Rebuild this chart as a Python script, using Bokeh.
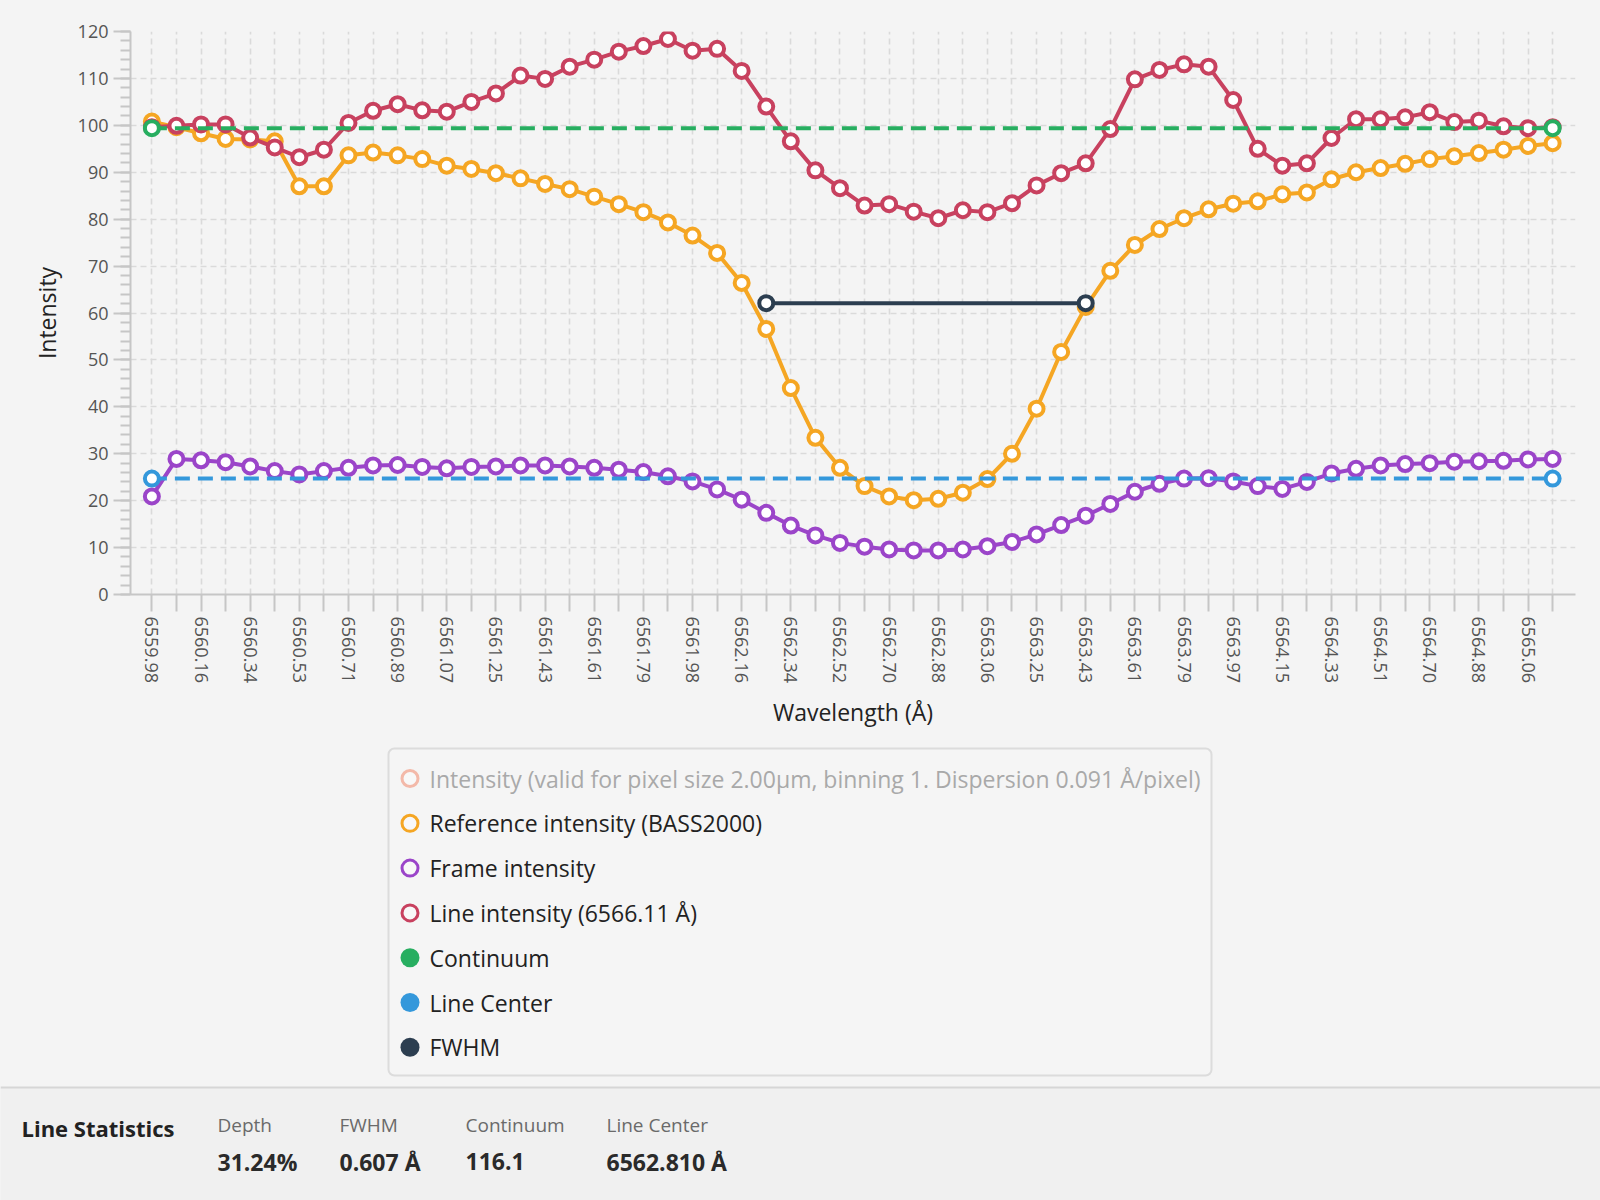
import math

from bokeh.core.properties import value
from bokeh.embed import file_html
from bokeh.layouts import column
from bokeh.models import FixedTicker, Range1d, SingleIntervalTicker
from bokeh.plotting import figure
from bokeh.resources import INLINE

# ---------------------------------------------------------------------------
# Spectrum data (one value per detector pixel along the dispersion axis)
# ---------------------------------------------------------------------------
wavelength_labels = [
    "6559.98", "6560.16", "6560.34", "6560.53", "6560.71", "6560.89",
    "6561.07", "6561.25", "6561.43", "6561.61", "6561.79", "6561.98",
    "6562.16", "6562.34", "6562.52", "6562.70", "6562.88", "6563.06",
    "6563.25", "6563.43", "6563.61", "6563.79", "6563.97", "6564.15",
    "6564.33", "6564.51", "6564.70", "6564.88", "6565.06",
]

reference_intensity = [
    100.8, 99.6, 98.3, 97.1, 97.0, 96.6, 87.0, 87.0, 93.6, 94.2,
    93.6, 92.8, 91.4, 90.7, 89.8, 88.7, 87.5, 86.4, 84.8, 83.2,
    81.5, 79.3, 76.5, 72.8, 66.4, 56.6, 44.0, 33.4, 27.0, 23.1,
    20.9, 20.1, 20.4, 21.7, 24.6, 30.0, 39.6, 51.7, 61.3, 69.0,
    74.5, 77.9, 80.2, 82.1, 83.3, 83.8, 85.3, 85.7, 88.5, 90.0,
    90.9, 91.8, 92.8, 93.4, 94.1, 94.8, 95.6, 96.2,
]

frame_intensity = [
    20.9, 28.9, 28.6, 28.2, 27.3, 26.3, 25.6, 26.3, 27.0, 27.5,
    27.6, 27.2, 26.9, 27.2, 27.3, 27.5, 27.5, 27.3, 27.0, 26.6,
    26.1, 25.2, 24.1, 22.4, 20.2, 17.4, 14.7, 12.6, 11.0, 10.2,
    9.6, 9.4, 9.4, 9.6, 10.3, 11.2, 12.8, 14.8, 16.8, 19.3,
    21.9, 23.6, 24.7, 24.8, 24.1, 23.1, 22.5, 24.0, 25.8, 26.8,
    27.5, 27.8, 28.0, 28.3, 28.4, 28.5, 28.8, 28.9,
]

line_intensity = [
    99.6, 99.9, 100.2, 100.2, 97.4, 95.3, 93.2, 94.8, 100.5, 103.1,
    104.5, 103.2, 102.9, 105.0, 106.8, 110.6, 109.9, 112.5, 114.0, 115.7,
    116.9, 118.4, 115.9, 116.3, 111.6, 104.0, 96.6, 90.4, 86.6, 82.9,
    83.2, 81.6, 80.2, 81.9, 81.5, 83.4, 87.2, 89.8, 91.9, 99.2,
    109.8, 111.8, 113.0, 112.5, 105.4, 95.0, 91.4, 91.9, 97.3, 101.3,
    101.3, 101.7, 102.8, 100.7, 101.0, 99.8, 99.4, 99.6,
]

continuum_level = 99.4
line_center_level = 24.7
fwhm_level = 62.1
fwhm_pixels = [25, 38]

legend_labels = [
    "Intensity (valid for pixel size 2.00μm, binning 1. Dispersion 0.091  Å/pixel)",
    "Reference intensity (BASS2000)",
    "Frame intensity",
    "Line intensity (6566.11 Å)",
    "Continuum",
    "Line Center",
    "FWHM",
]

stats_names = ["Depth", "FWHM", "Continuum", "Line Center"]
stats_values = ["31.24%", "0.607 Å", "116.1", "6562.810 Å"]

# ---------------------------------------------------------------------------
# Styling
# ---------------------------------------------------------------------------
FONT = "Open Sans"
BG = "#f4f4f4"
C_INTENSITY = "#f3b9a9"
C_REF = "#f5a623"
C_FRAME = "#9b45c9"
C_LINE = "#c8415f"
C_CONT = "#27ae60"
C_CENTER = "#3498db"
C_FWHM = "#2c3e50"
AXIS_GREY = "#c6c6c6"
GRID_GREY = "#dadada"

n = len(line_intensity)
pixels = list(range(n))

# ---------------------------------------------------------------------------
# Spectrum chart
# ---------------------------------------------------------------------------
p = figure(
    width=1600, height=730,
    x_range=Range1d(-0.87, n - 1 + 0.93), y_range=Range1d(0, 120),
    min_border_left=130, min_border_right=25,
    min_border_top=31, min_border_bottom=135,
    background_fill_color=BG, border_fill_color=BG,
    outline_line_color=None,
    output_backend="svg", toolbar_location=None,
)
p.frame_align = False

# x axis: one tick per pixel, wavelength labels on every second one
overrides = {}
for i in pixels:
    overrides[i] = wavelength_labels[i // 2] if i % 2 == 0 else ""
xa = p.xaxis[0]
xa.ticker = FixedTicker(ticks=pixels)
xa.major_label_overrides = overrides
xa.major_label_orientation = -math.pi / 2
xa.axis_label = "Wavelength (Å)"

ya = p.yaxis[0]
ya.ticker = SingleIntervalTicker(interval=10, num_minor_ticks=5)
ya.axis_label = "Intensity"

for ax in (xa, ya):
    ax.axis_line_color = AXIS_GREY
    ax.axis_line_width = 2
    ax.major_tick_line_color = AXIS_GREY
    ax.major_tick_line_width = 2
    ax.major_tick_in = 0
    ax.major_tick_out = 17
    ax.minor_tick_line_color = AXIS_GREY
    ax.minor_tick_line_width = 2
    ax.minor_tick_in = 0
    ax.minor_tick_out = 10
    ax.major_label_text_font = FONT
    ax.major_label_text_font_size = "18px"
    ax.major_label_text_color = "#555555"
    ax.major_label_standoff = 5
    ax.axis_label_text_font = FONT
    ax.axis_label_text_font_size = "23px"
    ax.axis_label_text_font_style = "normal"
    ax.axis_label_text_color = "#222222"
ya.axis_label_standoff = 12
xa.axis_label_standoff = 10

for g in (p.xgrid[0], p.ygrid[0]):
    g.grid_line_color = GRID_GREY
    g.grid_line_width = 1.6
    g.grid_line_dash = "6 4"

MARK = dict(size=14, line_width=4, fill_color="white")

# Reference, frame and line intensity profiles
for series, color in ((reference_intensity, C_REF),
                      (frame_intensity, C_FRAME),
                      (line_intensity, C_LINE)):
    p.line(pixels, series, line_color=color, line_width=4)
    p.scatter(pixels, series, line_color=color, **MARK)

# Continuum and line-centre levels across the full window
ends = [pixels[0], pixels[-1]]
for level, color in ((continuum_level, C_CONT), (line_center_level, C_CENTER)):
    p.line(ends, [level, level], line_color=color, line_width=4,
           line_dash="15 8")
    p.scatter(ends, [level, level], line_color=color, **MARK)

# Full width at half maximum
p.line(fwhm_pixels, [fwhm_level, fwhm_level], line_color=C_FWHM, line_width=4)
p.scatter(fwhm_pixels, [fwhm_level, fwhm_level], line_color=C_FWHM, **MARK)

# ---------------------------------------------------------------------------
# Legend and statistics panel (page-pixel coordinates, y pointing down)
# ---------------------------------------------------------------------------
q = figure(
    width=1600, height=470,
    x_range=Range1d(0, 1600), y_range=Range1d(1200, 730),
    min_border=0, x_axis_type=None, y_axis_type=None,
    background_fill_color=BG, border_fill_color=BG,
    outline_line_color=None,
    output_backend="svg", toolbar_location=None,
)
q.frame_align = False
q.grid.visible = False

q.quad(left=388, right=1211, top=748, bottom=1075,
       fill_color="#f5f5f5", line_color="#dcdcdc", line_width=2,
       border_radius=6)

row_y = [778 + 44.8 * k for k in range(len(legend_labels))]
ring_colors = [C_INTENSITY, C_REF, C_FRAME, C_LINE]
dot_colors = [C_CONT, C_CENTER, C_FWHM]
q.scatter([409.5] * 4, row_y[:4], size=16, line_width=3,
          line_color=ring_colors, fill_color="#f8f8f8")
q.scatter([409.5] * 3, row_y[4:], size=19, line_width=0,
          line_color=None, fill_color=dot_colors)
text_colors = ["#a9a9a9"] + ["#222222"] * (len(legend_labels) - 1)
q.text([429] * len(legend_labels), row_y, text=legend_labels,
       text_baseline="middle", text_align="left",
       text_font=value(FONT), text_font_size="23px", text_color=text_colors)

# Line statistics strip
q.quad(left=0, right=1600, top=1087, bottom=1200,
       fill_color="#f0f0f0", line_color=None)
q.segment(x0=0, y0=1087, x1=1600, y1=1087, line_color="#d6d6d6", line_width=2)
q.text([21], [1127], text=["Line Statistics"], text_baseline="middle",
       text_font=value(FONT), text_font_size="22px",
       text_font_style="bold", text_color="#222222")
stat_x = [217, 339, 465, 606]
q.text(stat_x, [1124] * 4, text=stats_names, text_baseline="middle",
       text_font=value(FONT), text_font_size="19px", text_color="#6a6a6a")
q.text(stat_x, [1161] * 4, text=stats_values, text_baseline="middle",
       text_font=value(FONT), text_font_size="23px",
       text_font_style="bold", text_color="#2a2a2a")

layout = column(p, q, spacing=0, styles={"background-color": BG})
open("out.html", "w").write(file_html(layout, INLINE))
